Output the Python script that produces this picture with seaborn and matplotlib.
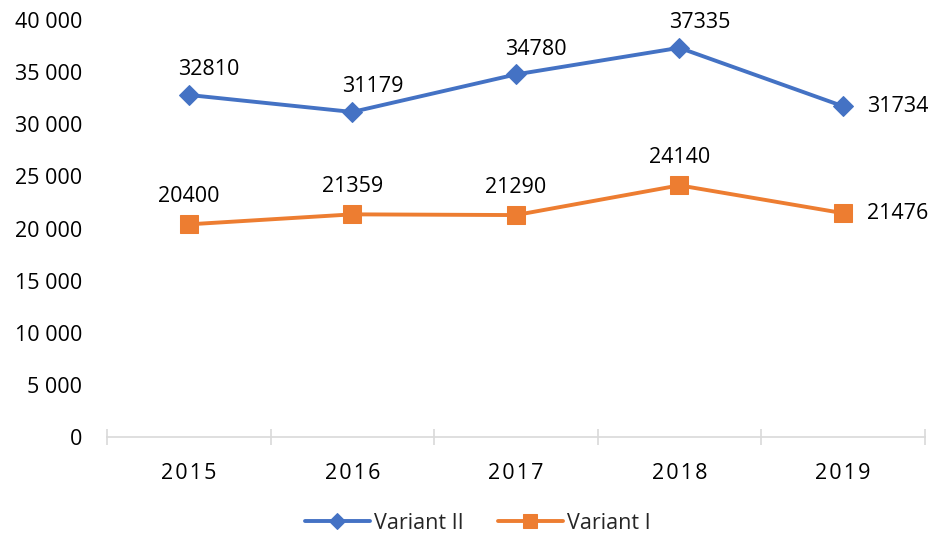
import matplotlib
matplotlib.use('Agg')
import matplotlib.pyplot as plt
import seaborn as sns
import numpy as np
from matplotlib.ticker import FuncFormatter, FixedLocator

sns.set_theme(style='white')
plt.rcParams['font.family'] = ['Open Sans', 'DejaVu Sans']

years = ['2015', '2016', '2017', '2018', '2019']
variant_2 = [32810, 31179, 34780, 37335, 31734]
variant_1 = [20400, 21359, 21290, 24140, 21476]

BLUE = '#4472C4'
ORANGE = '#ED7D31'
FS = 15.5

fig = plt.figure(figsize=(9.34, 5.38), dpi=100)
ax = fig.add_axes([0.1146, 0.1877, 0.8754, 0.7751])

xs = np.arange(len(years))
sns.lineplot(x=xs, y=variant_2, ax=ax, color=BLUE, lw=2.8, marker='D', markersize=10,
             markeredgecolor=BLUE, label='Variant II')
sns.lineplot(x=xs, y=variant_1, ax=ax, color=ORANGE, lw=2.8, marker='s', markersize=12.5,
             markeredgecolor=ORANGE, label='Variant I')

# data labels - excel style, above except last one goes right
for vals, dx, dy in [(variant_2, 20, 25), (variant_1, 0, 28)]:
    for i, v in enumerate(vals):
        if i == len(vals) - 1:
            ax.annotate(str(v), (i, v), xytext=(24, 0), textcoords='offset pixels',
                        ha='left', va='center', fontsize=FS, color='black')
        else:
            ax.annotate(str(v), (i, v), xytext=(dx, dy), textcoords='offset pixels',
                        ha='center', va='center', fontsize=FS, color='black')

ax.set_xlim(-0.5, 4.5)
ax.set_ylim(0, 40000)
ax.set_yticks(range(0, 40001, 5000))
ax.yaxis.set_major_formatter(FuncFormatter(lambda v, p: f'{int(v):,}'.replace(',', ' ')))
ax.set_xticks(xs)
ax.set_xticklabels(['\u200a'.join(y) for y in years])
ax.xaxis.set_minor_locator(FixedLocator(np.arange(-0.5, 4.6, 1)))

for s in ['top', 'right', 'left']:
    ax.spines[s].set_visible(False)
ax.spines['bottom'].set_color('#d9d9d9')
ax.spines['bottom'].set_linewidth(1.2)

ax.tick_params(axis='x', which='major', length=0, pad=19, labelsize=FS, colors='black')
ax.tick_params(axis='x', which='minor', length=12, width=1.2, color='#d9d9d9',
               direction='inout', bottom=True)
ax.tick_params(axis='y', length=0, pad=18, labelsize=FS, colors='black')
ax.set_xlabel('')
ax.set_ylabel('')
ax.grid(False)

ax.legend(loc='center', bbox_to_anchor=(0.4535, -0.207), ncol=2, frameon=False,
          fontsize=FS, handlelength=3.0, columnspacing=1.6, handletextpad=0.2,
          markerscale=0.85, borderpad=0.2)

fig.savefig('out.png', dpi=100)
